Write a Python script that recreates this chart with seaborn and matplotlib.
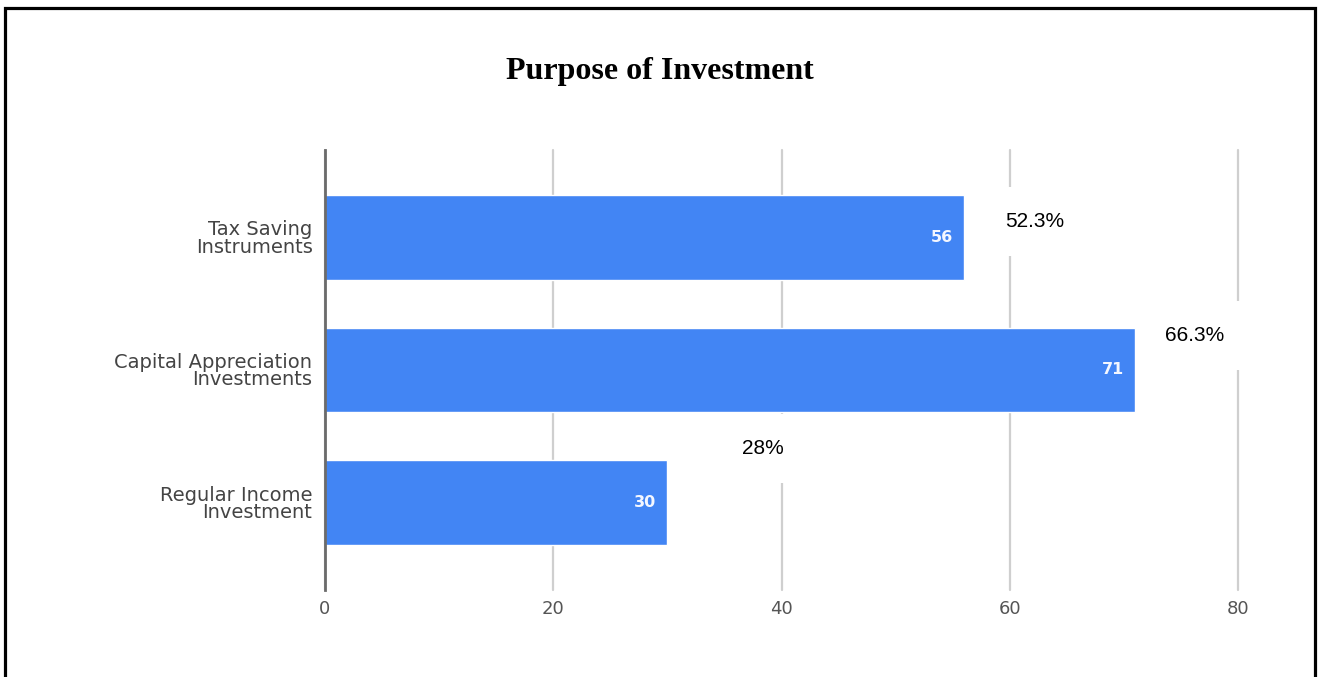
import matplotlib
matplotlib.use("Agg")
import matplotlib.pyplot as plt
from matplotlib.patches import Rectangle
import seaborn as sns
import pandas as pd

# ---- data ----
categories = ["Tax Saving\nInstruments", "Capital Appreciation\nInvestments", "Regular Income\nInvestment"]
values = [56, 71, 30]
pct_labels = ["52.3%", "66.3%", "28%"]
x_ticks = [0, 20, 40, 60, 80]

# annotation placement (layout only)
pct_pos_x = [62.2, 76.2, 38.4]
pct_pos_y = [-0.12, 0.74, 1.59]

sns.set_style("white")
plt.rcParams["font.family"] = ["DejaVu Sans"]

W, H = 1319, 677
fig = plt.figure(figsize=(W / 100, H / 100), dpi=100)
ax = fig.add_axes([325 / W, 1 - 590 / H, (1238 - 325) / W, 440 / H])

df = pd.DataFrame({"cat": categories, "val": values})
sns.barplot(data=df, x="val", y="cat", orient="h", color="#4285F4",
            saturation=1, width=0.64, ax=ax, zorder=3)

ax.set_xlim(0, 80)
ax.set_ylim(2.66, -0.66)
ax.set_xticks(x_ticks)
ax.set_xticklabels([str(t) for t in x_ticks])
ax.set_xlabel("")
ax.set_ylabel("")

ax.grid(axis="x", color="#cfcfcf", lw=1.6, zorder=0)
ax.grid(axis="y", visible=False)
for gl in ax.get_xgridlines():
    gl.set_clip_on(False)
for s in ["top", "right", "bottom"]:
    ax.spines[s].set_visible(False)
ax.spines["left"].set_color("#6b6b6b")
ax.spines["left"].set_linewidth(2)
ax.spines["left"].set_zorder(4)

ax.tick_params(axis="x", length=0, pad=7, labelsize=13, labelcolor="#555555")
ax.tick_params(axis="y", length=0, pad=9, labelsize=14, labelcolor="#444444")
for lbl in ax.get_yticklabels():
    lbl.set_linespacing(0.88)

# value labels inside bars
for i, v in enumerate(values):
    ax.annotate(str(v), xy=(v, i), xytext=(-8, 0), textcoords="offset points",
                ha="right", va="center", color="#f4f7ff", fontsize=11.5,
                fontweight="bold", zorder=5)

# percentage labels with white boxes
for x, y, t in zip(pct_pos_x, pct_pos_y, pct_labels):
    ax.text(x, y, t, ha="center", va="center", fontsize=15, color="black",
            family="Liberation Sans", zorder=6, clip_on=False,
            bbox=dict(boxstyle="square,pad=1.2", fc="white", ec="none"))

fig.text(0.5, 1 - 71 / H, "Purpose of Investment", ha="center", va="center",
         fontsize=23, fontweight="bold", family="Liberation Serif", color="black")

# page border (bottom edge lies outside the crop)
fig.patches.append(Rectangle((5 / W, -0.1), (1314.5 - 5) / W, 1.1 - 7.5 / H,
                             transform=fig.transFigure, fill=False,
                             ec="black", lw=2.3, zorder=10))

fig.savefig("out.png", dpi=100)
